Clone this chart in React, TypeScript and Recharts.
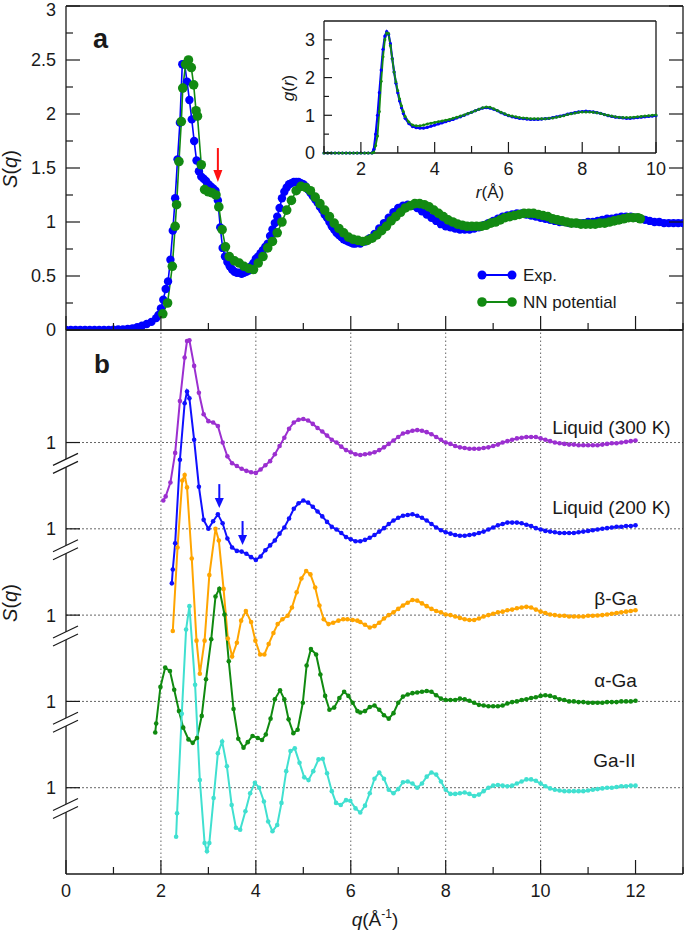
import React from "react";
import { LineChart, Line, XAxis, YAxis, ReferenceLine, ReferenceDot } from "recharts";

const FONT = "'Liberation Sans', Arial, Helvetica, sans-serif";
const INK = "#1a1a1a";

type Pt = [number, number];

// ---- panel a: S(q), experiment vs NN potential ----
const expSq: Pt[] = [
  [0, 0], [0.1, 0], [0.2, 0], [0.3, 0], [0.4, 0], [0.5, 0], [0.6, 0], [0.7, 0], [0.8, 0], [0.9, 0],
  [1.0, 0.002], [1.1, 0.004], [1.2, 0.006], [1.3, 0.01], [1.4, 0.015], [1.5, 0.025], [1.6, 0.04],
  [1.7, 0.055], [1.8, 0.075], [1.9, 0.11], [1.95, 0.14], [2.0, 0.2], [2.05, 0.28], [2.1, 0.38],
  [2.15, 0.45], [2.2, 0.65], [2.25, 0.92], [2.3, 1.22], [2.35, 1.58], [2.4, 1.92], [2.45, 2.46],
  [2.5, 2.46], [2.55, 2.3], [2.6, 2.13], [2.65, 1.95], [2.7, 1.75], [2.75, 1.57], [2.8, 1.47],
  [2.85, 1.42], [2.9, 1.4], [2.95, 1.38], [3.0, 1.35], [3.05, 1.33], [3.1, 1.31], [3.15, 1.29],
  [3.2, 1.2], [3.25, 0.95], [3.3, 0.76], [3.35, 0.68], [3.4, 0.63], [3.45, 0.59], [3.5, 0.56],
  [3.55, 0.54], [3.6, 0.53], [3.65, 0.53], [3.7, 0.52], [3.75, 0.53], [3.8, 0.54], [3.85, 0.55],
  [3.9, 0.59], [3.95, 0.62], [4.0, 0.66], [4.05, 0.68], [4.1, 0.71], [4.15, 0.74], [4.2, 0.77],
  [4.25, 0.8], [4.3, 0.87], [4.35, 0.93], [4.4, 0.99], [4.45, 1.05], [4.5, 1.13], [4.55, 1.22],
  [4.6, 1.28], [4.65, 1.32], [4.7, 1.35], [4.75, 1.36], [4.8, 1.37], [4.85, 1.37], [4.9, 1.37],
  [4.95, 1.36], [5.0, 1.35], [5.05, 1.33], [5.1, 1.3], [5.15, 1.27], [5.2, 1.24], [5.25, 1.21],
  [5.3, 1.18], [5.35, 1.14], [5.4, 1.11], [5.45, 1.07], [5.5, 1.04], [5.55, 1.0], [5.6, 0.96],
  [5.65, 0.93], [5.7, 0.9], [5.75, 0.88], [5.8, 0.86], [5.85, 0.84], [5.9, 0.83], [5.95, 0.82],
  [6.0, 0.81], [6.05, 0.8], [6.1, 0.8], [6.2, 0.8], [6.3, 0.82], [6.4, 0.85], [6.5, 0.89],
  [6.6, 0.94], [6.7, 0.99], [6.8, 1.04], [6.9, 1.09], [7.0, 1.13], [7.1, 1.15], [7.2, 1.16],
  [7.3, 1.15], [7.4, 1.13], [7.5, 1.1], [7.6, 1.07], [7.7, 1.04], [7.8, 1.01], [7.9, 0.98],
  [8.0, 0.96], [8.1, 0.95], [8.2, 0.94], [8.3, 0.93], [8.4, 0.93], [8.5, 0.93], [8.6, 0.94],
  [8.7, 0.95], [8.8, 0.97], [8.9, 0.99], [9.0, 1.01], [9.1, 1.03], [9.2, 1.05], [9.3, 1.06],
  [9.4, 1.07], [9.5, 1.08], [9.6, 1.08], [9.7, 1.07], [9.8, 1.06], [9.9, 1.05], [10.0, 1.04],
  [10.1, 1.03], [10.2, 1.02], [10.3, 1.01], [10.4, 1.0], [10.5, 1.0], [10.6, 0.99], [10.7, 0.99],
  [10.8, 0.99], [10.9, 0.99], [11.0, 1.0], [11.1, 1.0], [11.2, 1.01], [11.3, 1.02], [11.4, 1.03],
  [11.5, 1.03], [11.6, 1.04], [11.7, 1.05], [11.8, 1.05], [11.9, 1.05], [12.0, 1.04], [12.1, 1.03],
  [12.2, 1.02], [12.3, 1.01], [12.4, 1.0], [12.5, 1.0], [12.6, 0.99], [12.7, 0.99], [12.8, 0.99],
  [12.9, 0.99], [13.0, 0.99],
];

const nnSq: Pt[] = [
  [2.04, 0.15], [2.14, 0.25], [2.24, 0.59], [2.3, 0.96], [2.33, 1.16], [2.38, 1.56], [2.43, 1.93],
  [2.46, 2.24], [2.52, 2.46], [2.58, 2.5], [2.64, 2.43], [2.69, 2.27], [2.74, 2.03], [2.77, 1.98],
  [2.85, 1.53], [2.92, 1.3], [3.0, 1.28], [3.08, 1.27], [3.16, 1.25], [3.22, 1.14], [3.29, 0.93],
  [3.36, 0.77], [3.44, 0.68], [3.55, 0.64], [3.65, 0.62], [3.75, 0.59], [3.85, 0.57], [3.95, 0.56],
  [4.05, 0.62], [4.15, 0.68], [4.25, 0.76], [4.35, 0.82], [4.45, 0.9], [4.55, 1.0], [4.65, 1.11],
  [4.75, 1.2], [4.85, 1.29], [4.95, 1.33], [5.05, 1.32], [5.15, 1.29], [5.25, 1.23], [5.35, 1.17],
  [5.45, 1.11], [5.55, 1.05], [5.65, 0.99], [5.75, 0.94], [5.85, 0.9], [5.95, 0.86], [6.05, 0.84],
  [6.15, 0.83], [6.25, 0.82], [6.35, 0.83], [6.45, 0.85], [6.55, 0.88], [6.65, 0.92], [6.75, 0.96],
  [6.85, 1.01], [6.95, 1.05], [7.05, 1.09], [7.15, 1.13], [7.25, 1.15], [7.35, 1.17], [7.45, 1.17],
  [7.55, 1.16], [7.65, 1.14], [7.75, 1.11], [7.85, 1.08], [7.95, 1.05], [8.05, 1.02], [8.15, 1.0],
  [8.25, 0.98], [8.35, 0.97], [8.45, 0.96], [8.55, 0.96], [8.65, 0.96], [8.75, 0.96], [8.85, 0.97],
  [8.95, 0.99], [9.05, 1.0], [9.15, 1.02], [9.25, 1.04], [9.35, 1.05], [9.45, 1.06], [9.55, 1.07],
  [9.65, 1.08], [9.75, 1.08], [9.85, 1.08], [9.95, 1.07], [10.05, 1.06], [10.15, 1.05], [10.25, 1.03],
  [10.35, 1.02], [10.45, 1.01], [10.55, 1.0], [10.65, 0.99], [10.75, 0.99], [10.85, 0.98],
  [10.95, 0.98], [11.05, 0.98], [11.15, 0.98], [11.25, 0.99], [11.35, 0.99], [11.45, 1.0],
  [11.55, 1.01], [11.65, 1.02], [11.75, 1.03], [11.85, 1.04], [11.95, 1.04], [12.05, 1.04], [12.1, 1.03],
];

// ---- inset: g(r) ----
const expGr: Pt[] = [
  [1.0, 0], [1.1, 0], [1.2, 0], [1.3, 0], [1.4, 0], [1.5, 0], [1.6, 0], [1.7, 0], [1.8, 0], [1.9, 0],
  [2.0, 0], [2.1, 0], [2.2, 0], [2.3, 0], [2.35, 0.1], [2.4, 0.5], [2.45, 1.0], [2.5, 1.6], [2.55, 2.2],
  [2.6, 2.75], [2.65, 3.1], [2.7, 3.22], [2.75, 3.15], [2.8, 2.9], [2.85, 2.5], [2.9, 2.15], [2.95, 1.85],
  [3.0, 1.6], [3.05, 1.38], [3.1, 1.2], [3.15, 1.05], [3.2, 0.92], [3.3, 0.78], [3.4, 0.7], [3.5, 0.67],
  [3.6, 0.66], [3.7, 0.66], [3.8, 0.68], [3.9, 0.71], [4.0, 0.74], [4.1, 0.77], [4.2, 0.8], [4.3, 0.83],
  [4.4, 0.86], [4.5, 0.89], [4.6, 0.93], [4.7, 0.96], [4.8, 1.0], [4.9, 1.04], [5.0, 1.08], [5.1, 1.12],
  [5.2, 1.16], [5.3, 1.19], [5.4, 1.2], [5.5, 1.19], [5.6, 1.16], [5.7, 1.12], [5.8, 1.07], [5.9, 1.03],
  [6.0, 0.99], [6.1, 0.96], [6.2, 0.94], [6.3, 0.92], [6.4, 0.91], [6.5, 0.9], [6.6, 0.89], [6.7, 0.89],
  [6.8, 0.89], [6.9, 0.9], [7.0, 0.91], [7.1, 0.92], [7.2, 0.94], [7.3, 0.96], [7.4, 0.98], [7.5, 1.0],
  [7.6, 1.03], [7.7, 1.05], [7.8, 1.07], [7.9, 1.09], [8.0, 1.1], [8.1, 1.11], [8.2, 1.1], [8.3, 1.09],
  [8.4, 1.07], [8.5, 1.05], [8.6, 1.02], [8.7, 0.99], [8.8, 0.97], [8.9, 0.95], [9.0, 0.94], [9.1, 0.93],
  [9.2, 0.92], [9.3, 0.92], [9.4, 0.93], [9.5, 0.94], [9.6, 0.95], [9.7, 0.96], [9.8, 0.97], [9.9, 0.98],
  [10.0, 0.99],
];

const nnGr: Pt[] = [
  [1.0, 0], [1.1, 0], [1.2, 0], [1.3, 0], [1.4, 0], [1.5, 0], [1.6, 0], [1.7, 0], [1.8, 0], [1.9, 0],
  [2.0, 0], [2.1, 0], [2.2, 0], [2.3, 0], [2.35, 0.02], [2.4, 0.2], [2.45, 0.45], [2.5, 1.1], [2.55, 1.9],
  [2.6, 2.55], [2.65, 3.0], [2.7, 3.18], [2.75, 3.17], [2.8, 2.85], [2.85, 2.5], [2.9, 2.15], [2.95, 1.88],
  [3.0, 1.65], [3.05, 1.43], [3.1, 1.25], [3.15, 1.1], [3.2, 0.97], [3.3, 0.82], [3.4, 0.74], [3.5, 0.72],
  [3.6, 0.72], [3.7, 0.74], [3.8, 0.77], [3.9, 0.79], [4.0, 0.81], [4.1, 0.83], [4.2, 0.85], [4.3, 0.87],
  [4.4, 0.89], [4.5, 0.92], [4.6, 0.95], [4.7, 0.98], [4.8, 1.01], [4.9, 1.05], [5.0, 1.08], [5.1, 1.12],
  [5.2, 1.16], [5.3, 1.2], [5.4, 1.22], [5.5, 1.21], [5.6, 1.17], [5.7, 1.13], [5.8, 1.08], [5.9, 1.04],
  [6.0, 1.0], [6.1, 0.98], [6.2, 0.96], [6.3, 0.94], [6.4, 0.93], [6.5, 0.92], [6.6, 0.91], [6.7, 0.91],
  [6.8, 0.91], [6.9, 0.91], [7.0, 0.91], [7.1, 0.92], [7.2, 0.93], [7.3, 0.95], [7.4, 0.97], [7.5, 0.99],
  [7.6, 1.02], [7.7, 1.04], [7.8, 1.06], [7.9, 1.08], [8.0, 1.09], [8.1, 1.09], [8.2, 1.09], [8.3, 1.08],
  [8.4, 1.07], [8.5, 1.05], [8.6, 1.02], [8.7, 1.0], [8.8, 0.98], [8.9, 0.96], [9.0, 0.95], [9.1, 0.94],
  [9.2, 0.94], [9.3, 0.94], [9.4, 0.95], [9.5, 0.96], [9.6, 0.97], [9.7, 0.98], [9.8, 0.99], [9.9, 1.0],
  [10.0, 1.01],
];

// ---- panel b: S(q) of five phases ----
const liquid300: Pt[] = [
  [2.05, 0.16], [2.1, 0.22], [2.2, 0.42], [2.3, 0.85], [2.4, 1.6], [2.5, 2.23], [2.55, 2.47], [2.6, 2.48],
  [2.7, 2.11], [2.8, 1.72], [2.9, 1.41], [3.0, 1.31], [3.1, 1.29], [3.2, 1.24], [3.3, 1.0], [3.4, 0.8],
  [3.5, 0.7], [3.6, 0.66], [3.7, 0.62], [3.8, 0.59], [3.9, 0.57], [4.0, 0.56], [4.1, 0.61], [4.2, 0.67],
  [4.3, 0.73], [4.4, 0.83], [4.5, 0.95], [4.6, 1.07], [4.7, 1.2], [4.8, 1.29], [4.9, 1.33], [5.0, 1.34],
  [5.1, 1.32], [5.2, 1.27], [5.3, 1.21], [5.4, 1.16], [5.5, 1.1], [5.6, 1.04], [5.7, 1.0], [5.8, 0.94],
  [5.9, 0.89], [6.0, 0.86], [6.1, 0.83], [6.2, 0.82], [6.3, 0.83], [6.4, 0.84], [6.5, 0.86], [6.6, 0.89],
  [6.7, 0.93], [6.8, 0.98], [6.9, 1.03], [7.0, 1.08], [7.1, 1.13], [7.2, 1.15], [7.3, 1.17], [7.4, 1.18],
  [7.5, 1.17], [7.6, 1.15], [7.7, 1.12], [7.8, 1.08], [7.9, 1.04], [8.0, 1.0], [8.1, 0.98], [8.2, 0.95],
  [8.3, 0.93], [8.4, 0.92], [8.5, 0.91], [8.6, 0.91], [8.7, 0.91], [8.8, 0.92], [8.9, 0.93], [9.0, 0.95],
  [9.1, 0.97], [9.2, 1.0], [9.3, 1.02], [9.4, 1.04], [9.5, 1.06], [9.6, 1.07], [9.7, 1.08], [9.8, 1.08],
  [9.9, 1.08], [10.0, 1.06], [10.1, 1.04], [10.2, 1.02], [10.3, 1.0], [10.4, 0.99], [10.5, 0.98],
  [10.6, 0.97], [10.7, 0.97], [10.8, 0.96], [10.9, 0.96], [11.0, 0.96], [11.1, 0.96], [11.2, 0.96],
  [11.3, 0.97], [11.4, 0.98], [11.5, 0.99], [11.6, 0.99], [11.7, 1.0], [11.8, 1.01], [11.9, 1.02], [12.0, 1.03],
];

const liquid200: Pt[] = [
  [2.23, 0.21], [2.25, 0.41], [2.3, 0.79], [2.4, 2.0], [2.5, 2.82], [2.55, 2.99], [2.6, 2.89], [2.7, 2.29],
  [2.8, 1.61], [2.9, 1.13], [3.0, 1.0], [3.1, 1.11], [3.2, 1.21], [3.3, 1.08], [3.4, 0.86], [3.5, 0.73],
  [3.6, 0.68], [3.7, 0.67], [3.8, 0.64], [3.9, 0.59], [4.0, 0.55], [4.1, 0.6], [4.2, 0.69], [4.3, 0.76],
  [4.4, 0.83], [4.5, 0.93], [4.6, 1.02], [4.7, 1.15], [4.8, 1.29], [4.9, 1.37], [5.0, 1.41], [5.1, 1.38],
  [5.2, 1.32], [5.3, 1.25], [5.4, 1.18], [5.5, 1.1], [5.6, 1.03], [5.7, 0.99], [5.8, 0.94], [5.9, 0.88],
  [6.0, 0.85], [6.1, 0.82], [6.2, 0.82], [6.3, 0.84], [6.4, 0.87], [6.5, 0.91], [6.6, 0.96], [6.7, 1.01],
  [6.8, 1.07], [6.9, 1.12], [7.0, 1.16], [7.1, 1.19], [7.2, 1.2], [7.3, 1.21], [7.4, 1.19], [7.5, 1.16],
  [7.6, 1.12], [7.7, 1.07], [7.8, 1.02], [7.9, 0.98], [8.0, 0.95], [8.1, 0.93], [8.2, 0.91], [8.3, 0.9],
  [8.4, 0.9], [8.5, 0.91], [8.6, 0.92], [8.7, 0.94], [8.8, 0.96], [8.9, 0.99], [9.0, 1.02], [9.1, 1.05],
  [9.2, 1.07], [9.3, 1.09], [9.4, 1.09], [9.5, 1.09], [9.6, 1.08], [9.7, 1.06], [9.8, 1.04], [9.9, 1.01],
  [10.0, 0.99], [10.1, 0.97], [10.2, 0.96], [10.3, 0.95], [10.4, 0.94], [10.5, 0.94], [10.6, 0.94],
  [10.7, 0.94], [10.8, 0.95], [10.9, 0.96], [11.0, 0.97], [11.1, 0.98], [11.2, 0.99], [11.3, 1.0],
  [11.4, 1.01], [11.5, 1.02], [11.6, 1.03], [11.7, 1.03], [11.8, 1.04], [11.9, 1.04], [12.0, 1.05],
];

const betaGa: Pt[] = [
  [2.25, 0.77], [2.35, 1.98], [2.45, 2.95], [2.5, 3.03], [2.55, 2.85], [2.65, 1.82], [2.75, 0.63],
  [2.82, 0.15], [2.92, 0.63], [3.02, 1.58], [3.15, 2.25], [3.22, 2.08], [3.32, 1.38], [3.41, 0.66],
  [3.5, 0.4], [3.6, 0.6], [3.69, 0.92], [3.79, 1.06], [3.9, 0.9], [3.99, 0.63], [4.09, 0.43], [4.18, 0.43],
  [4.27, 0.58], [4.37, 0.74], [4.46, 0.87], [4.56, 0.94], [4.67, 0.99], [4.76, 1.11], [4.86, 1.33],
  [4.96, 1.53], [5.06, 1.64], [5.15, 1.59], [5.25, 1.4], [5.34, 1.14], [5.43, 0.94], [5.53, 0.87],
  [5.63, 0.89], [5.74, 0.92], [5.84, 0.94], [5.93, 0.94], [6.04, 0.93], [6.14, 0.92], [6.2, 0.9],
  [6.3, 0.86], [6.4, 0.82], [6.5, 0.84], [6.6, 0.89], [6.7, 0.95], [6.8, 1.0], [6.9, 1.04], [7.0, 1.09],
  [7.1, 1.14], [7.2, 1.18], [7.3, 1.22], [7.4, 1.21], [7.5, 1.17], [7.6, 1.13], [7.7, 1.09], [7.8, 1.06],
  [7.9, 1.04], [8.0, 1.01], [8.1, 1.0], [8.2, 0.98], [8.3, 0.96], [8.4, 0.94], [8.5, 0.93], [8.6, 0.93],
  [8.7, 0.95], [8.8, 0.98], [8.9, 1.0], [9.0, 1.02], [9.1, 1.04], [9.2, 1.05], [9.3, 1.07], [9.4, 1.08],
  [9.5, 1.1], [9.6, 1.11], [9.7, 1.12], [9.8, 1.11], [9.9, 1.08], [10.0, 1.05], [10.1, 1.03], [10.2, 1.01],
  [10.3, 1.0], [10.4, 0.99], [10.5, 0.99], [10.6, 0.98], [10.7, 0.98], [10.8, 0.98], [10.9, 0.98],
  [11.0, 0.99], [11.1, 0.99], [11.2, 0.995], [11.3, 1.0], [11.4, 1.01], [11.5, 1.02], [11.6, 1.03],
  [11.7, 1.04], [11.8, 1.05], [11.9, 1.06], [12.0, 1.07],
];

const alphaGa: Pt[] = [
  [1.88, 0.55], [1.9, 0.68], [1.99, 1.21], [2.09, 1.49], [2.19, 1.44], [2.28, 1.17], [2.38, 0.86],
  [2.47, 0.62], [2.58, 0.45], [2.67, 0.4], [2.76, 0.47], [2.86, 0.79], [2.95, 1.32], [3.06, 1.9],
  [3.15, 2.52], [3.23, 2.63], [3.34, 2.26], [3.43, 1.58], [3.53, 0.89], [3.63, 0.46], [3.74, 0.33],
  [3.83, 0.41], [3.93, 0.5], [4.04, 0.47], [4.13, 0.44], [4.21, 0.52], [4.31, 0.75], [4.4, 1.03],
  [4.51, 1.16], [4.6, 1.03], [4.69, 0.74], [4.79, 0.54], [4.88, 0.59], [4.99, 0.98], [5.07, 1.52],
  [5.16, 1.76], [5.27, 1.68], [5.36, 1.39], [5.46, 1.08], [5.55, 0.88], [5.65, 0.91], [5.76, 1.05],
  [5.86, 1.14], [5.95, 1.08], [6.04, 0.98], [6.14, 0.86], [6.2, 0.84], [6.3, 0.86], [6.4, 0.92],
  [6.5, 0.94], [6.6, 0.88], [6.7, 0.8], [6.8, 0.75], [6.9, 0.83], [7.0, 0.98], [7.1, 1.07], [7.2, 1.1],
  [7.3, 1.12], [7.4, 1.13], [7.5, 1.14], [7.6, 1.15], [7.7, 1.14], [7.8, 1.09], [7.9, 1.04], [8.0, 1.02],
  [8.1, 1.02], [8.2, 1.02], [8.3, 1.04], [8.4, 1.03], [8.5, 1.01], [8.6, 0.98], [8.7, 0.95], [8.8, 0.94],
  [8.9, 0.93], [9.0, 0.93], [9.1, 0.93], [9.2, 0.94], [9.3, 0.97], [9.4, 0.99], [9.5, 1.0], [9.6, 1.02],
  [9.7, 1.03], [9.8, 1.05], [9.9, 1.06], [10.0, 1.08], [10.1, 1.09], [10.2, 1.08], [10.3, 1.06],
  [10.4, 1.03], [10.5, 1.02], [10.6, 1.0], [10.7, 1.0], [10.8, 0.99], [10.9, 0.99], [11.0, 0.98],
  [11.1, 0.98], [11.2, 0.98], [11.3, 0.98], [11.4, 0.99], [11.5, 0.99], [11.6, 0.99], [11.7, 1.0],
  [11.8, 1.0], [11.9, 1.0], [12.0, 1.01],
];

const gaII: Pt[] = [
  [2.32, 0.29], [2.34, 0.63], [2.44, 2.07], [2.53, 3.29], [2.6, 3.63], [2.72, 2.49], [2.82, 1.11],
  [2.92, 0.2], [2.97, 0.08], [3.02, 0.2], [3.11, 0.85], [3.2, 1.5], [3.29, 1.67], [3.39, 1.31],
  [3.49, 0.75], [3.58, 0.42], [3.67, 0.39], [3.78, 0.66], [3.88, 0.92], [3.98, 1.07], [4.07, 1.0],
  [4.17, 0.8], [4.26, 0.51], [4.35, 0.37], [4.45, 0.46], [4.54, 0.78], [4.64, 1.24], [4.73, 1.53],
  [4.82, 1.57], [4.92, 1.36], [5.02, 1.15], [5.11, 1.11], [5.21, 1.24], [5.32, 1.41], [5.41, 1.42],
  [5.5, 1.21], [5.6, 0.95], [5.69, 0.78], [5.79, 0.75], [5.9, 0.82], [5.99, 0.81], [6.1, 0.7],
  [6.2, 0.64], [6.3, 0.74], [6.4, 0.92], [6.5, 1.13], [6.6, 1.22], [6.7, 1.13], [6.8, 0.97], [6.9, 0.92],
  [7.0, 0.98], [7.1, 1.08], [7.2, 1.09], [7.3, 1.06], [7.4, 1.0], [7.5, 1.06], [7.6, 1.16], [7.7, 1.22],
  [7.8, 1.19], [7.9, 1.09], [8.0, 0.97], [8.1, 0.91], [8.2, 0.91], [8.3, 0.92], [8.4, 0.93], [8.5, 0.91],
  [8.6, 0.88], [8.7, 0.9], [8.8, 0.95], [8.9, 1.0], [9.0, 1.03], [9.1, 1.04], [9.2, 1.03], [9.3, 1.02],
  [9.4, 1.03], [9.5, 1.06], [9.6, 1.09], [9.7, 1.12], [9.8, 1.12], [9.9, 1.1], [10.0, 1.06], [10.1, 1.02],
  [10.2, 0.99], [10.3, 0.97], [10.4, 0.96], [10.5, 0.95], [10.6, 0.95], [10.7, 0.95], [10.8, 0.95],
  [10.9, 0.95], [11.0, 0.96], [11.1, 0.97], [11.2, 0.98], [11.3, 0.99], [11.4, 1.0], [11.5, 1.0],
  [11.6, 1.01], [11.7, 1.02], [11.8, 1.02], [11.9, 1.03], [12.0, 1.03],
];

const qTicks = [0, 1, 2, 3, 4, 5, 6, 7, 8, 9, 10, 11, 12, 13];
const sTicksA = [0, 0.25, 0.5, 0.75, 1, 1.25, 1.5, 1.75, 2, 2.25, 2.5, 2.75, 3];
const rTicks = [1, 2, 3, 4, 5, 6, 7, 8, 9, 10];
const gTicks = [0, 0.5, 1, 1.5, 2, 2.5, 3];
const qGridB = [2, 4, 6, 8, 10];

// panel b: every curve shifted so its S = 1 sits on its own dotted baseline
const STEP = 1.25;
const phases = [
  { name: "Liquid (300 K)", color: "#9b2fd0", pts: liquid300, base: 5 * STEP, labelQ: 12.74, lift: 9 },
  { name: "Liquid (200 K)", color: "#1010ff", pts: liquid200, base: 4 * STEP, labelQ: 12.74, lift: 15 },
  { name: "β-Ga", color: "#ffa500", pts: betaGa, base: 3 * STEP, labelQ: 12.03, lift: 10 },
  { name: "α-Ga", color: "#108a10", pts: alphaGa, base: 2 * STEP, labelQ: 12.03, lift: 14 },
  { name: "Ga-II", color: "#40e0d0", pts: gaII, base: 1 * STEP, labelQ: 12.0, lift: 21 },
];
const baselines = phases.map((p) => p.base);

const rows = (pts: Pt[]) => pts.map(([q, s]) => ({ q, s }));
const shifted = (pts: Pt[], base: number) => pts.map(([q, s]) => ({ q, s: s - 1 + base }));

const isMult = (v: number, m: number) => Math.abs(v / m - Math.round(v / m)) < 1e-6;

type Side = "bottom" | "top" | "left" | "right";
function axisTick(o: {
  side: Side;
  major: (v: number) => boolean;
  long: number;
  short: number;
  label?: (v: number) => string;
  gap?: number;
  fontSize?: number;
  nudge?: (v: number) => number;
}) {
  return (p: any) => {
    const { x, y, payload } = p;
    const v = payload.value as number;
    const big = o.major(v);
    const len = big ? o.long : o.short;
    let x2 = x;
    let y2 = y;
    if (o.side === "bottom") y2 = y - len;
    if (o.side === "top") y2 = y + len;
    if (o.side === "left") x2 = x + len;
    if (o.side === "right") x2 = x - len;
    const txt = big && o.label ? o.label(v) : null;
    const ny = o.nudge ? o.nudge(v) : 0;
    return (
      <g>
        <line x1={x} y1={y} x2={x2} y2={y2} stroke={INK} strokeWidth={1.2} />
        {txt !== null &&
          (o.side === "bottom" ? (
            <text x={x} y={y + (o.gap ?? 0)} textAnchor="middle" fontSize={o.fontSize} fontFamily={FONT} fill={INK}>
              {txt}
            </text>
          ) : (
            <text x={x - (o.gap ?? 0)} y={y + ny} dy="0.36em" textAnchor="end" fontSize={o.fontSize} fontFamily={FONT} fill={INK}>
              {txt}
            </text>
          ))}
      </g>
    );
  };
}

const axisLine = { stroke: INK, strokeWidth: 1.3 };
const even = (v: number) => isMult(v, 2);

function DownArrow(color: string, len: number, head: number, half: number) {
  return (p: any) => {
    const { cx, cy } = p;
    return (
      <g>
        <line x1={cx} y1={cy - len} x2={cx} y2={cy - head + 1} stroke={color} strokeWidth={2} />
        <polygon points={`${cx - half},${cy - head} ${cx + half},${cy - head} ${cx},${cy}`} fill={color} />
      </g>
    );
  };
}

const BreakMark = (p: any) => {
  const { cx, cy } = p;
  return (
    <g>
      <polygon points={`${cx - 13},${cy - 2} ${cx + 12},${cy - 14} ${cx + 12},${cy - 6} ${cx - 13},${cy + 6}`} fill="#fff" />
      <line x1={cx - 13} y1={cy - 2} x2={cx + 12} y2={cy - 14} stroke={INK} strokeWidth={1.2} />
      <line x1={cx - 13} y1={cy + 6} x2={cx + 12} y2={cy - 6} stroke={INK} strokeWidth={1.2} />
    </g>
  );
};

function CurveLabel(text: string, lift: number) {
  return (p: any) => (
    <text x={p.cx} y={p.cy - lift} textAnchor="end" fontSize={19} fontFamily={FONT} fill={INK}>
      {text}
    </text>
  );
}

const fmtS = (v: number) => String(v);

export default function App() {
  return (
    <div style={{ position: "absolute", left: 0, top: 0, width: 685, height: 933, background: "#fff", fontFamily: FONT }}>
      <style>{"svg.recharts-surface{overflow:visible}"}</style>
      {/* panel a */}
      <div style={{ position: "absolute", left: 0, top: 0 }}>
        <LineChart width={685} height={331} margin={{ top: 5, right: 1, bottom: 0, left: 0 }}>
          <XAxis xAxisId="b" type="number" dataKey="q" domain={[0, 13]} ticks={qTicks} interval={0} height={1}
            tickSize={0} tickMargin={0} axisLine={axisLine} tickLine={false}
            tick={axisTick({ side: "bottom", major: even, long: 14, short: 7 })} allowDataOverflow />
          <XAxis xAxisId="t" orientation="top" type="number" domain={[0, 13]} ticks={qTicks} interval={0} height={1}
            tickSize={0} tickMargin={0} axisLine={axisLine} tickLine={false}
            tick={axisTick({ side: "top", major: even, long: 14, short: 7 })} allowDataOverflow />
          <YAxis yAxisId="l" type="number" domain={[0, 3]} ticks={sTicksA} interval={0} width={66}
            tickSize={0} tickMargin={0} axisLine={axisLine} tickLine={false}
            tick={axisTick({ side: "left", major: (v) => isMult(v, 0.5), long: 14, short: 7, label: fmtS, gap: 10, fontSize: 18, nudge: (v) => (v === 3 ? 3.5 : 0) })} allowDataOverflow />
          <YAxis yAxisId="r" orientation="right" type="number" domain={[0, 3]} ticks={sTicksA} interval={0} width={1}
            tickSize={0} tickMargin={0} axisLine={axisLine} tickLine={false}
            tick={axisTick({ side: "right", major: (v) => isMult(v, 0.5), long: 14, short: 7 })} allowDataOverflow />
          <Line xAxisId="b" yAxisId="l" data={rows(expSq)} dataKey="s" type="linear" stroke="#0000ff" strokeWidth={1.6}
            dot={{ r: 4.2, fill: "#0000ff", stroke: "none" }} isAnimationActive={false} />
          <Line xAxisId="b" yAxisId="l" data={rows(nnSq)} dataKey="s" type="linear" stroke="#128a12" strokeWidth={1.6}
            dot={{ r: 4.8, fill: "#128a12", stroke: "none" }} isAnimationActive={false} />
          <ReferenceDot xAxisId="b" yAxisId="l" x={3.2} y={1.37} r={0} shape={DownArrow("#ff1010", 34, 12, 4.5)} />
        </LineChart>
      </div>

      {/* inset g(r) */}
      <div style={{ position: "absolute", left: 290, top: 15 }}>
        <LineChart width={370} height={190} margin={{ top: 5, right: 3, bottom: 0, left: 0 }}>
          <XAxis xAxisId="b" type="number" dataKey="r" domain={[1, 10]} ticks={rTicks} interval={0} height={52}
            tickSize={0} tickMargin={0} axisLine={axisLine} tickLine={false}
            tick={axisTick({ side: "bottom", major: even, long: 11, short: 7, label: fmtS, gap: 22, fontSize: 18 })} />
          <XAxis xAxisId="t" orientation="top" type="number" domain={[1, 10]} ticks={rTicks} interval={0} height={1}
            tickSize={0} tickMargin={0} axisLine={axisLine} tickLine={false}
            tick={axisTick({ side: "top", major: even, long: 11, short: 7 })} />
          <YAxis yAxisId="l" type="number" domain={[0, 3.5]} ticks={gTicks} interval={0} width={34}
            tickSize={0} tickMargin={0} axisLine={axisLine} tickLine={false}
            tick={axisTick({ side: "left", major: (v) => isMult(v, 1), long: 8, short: 5, label: fmtS, gap: 9, fontSize: 18 })} />
          <YAxis yAxisId="r" orientation="right" type="number" domain={[0, 3.5]} ticks={gTicks} interval={0} width={1}
            tickSize={0} tickMargin={0} axisLine={axisLine} tickLine={false}
            tick={axisTick({ side: "right", major: (v) => isMult(v, 1), long: 8, short: 5 })} />
          <Line xAxisId="b" yAxisId="l" data={expGr.map(([r, g]) => ({ r, g }))} dataKey="g" type="linear" stroke="#0000ff"
            strokeWidth={2.2} dot={{ r: 1.6, fill: "#0000ff", stroke: "none" }} isAnimationActive={false} />
          <Line xAxisId="b" yAxisId="l" data={nnGr.map(([r, g]) => ({ r, g }))} dataKey="g" type="linear" stroke="#128a12"
            strokeWidth={1.8} dot={{ r: 1.5, fill: "#128a12", stroke: "none" }} isAnimationActive={false} />
        </LineChart>
      </div>

      {/* panel b */}
      <div style={{ position: "absolute", left: 0, top: 329 }}>
        <LineChart width={685} height={604} margin={{ top: 0, right: 1, bottom: 0, left: 0 }}>
          <XAxis xAxisId="b" type="number" dataKey="q" domain={[0, 13]} ticks={qTicks} interval={0} height={59}
            tickSize={0} tickMargin={0} axisLine={axisLine} tickLine={false}
            tick={axisTick({ side: "bottom", major: even, long: 14, short: 7, label: (v) => (v <= 12 ? String(v) : ""), gap: 23, fontSize: 18 })} />
          <XAxis xAxisId="t" orientation="top" type="number" domain={[0, 13]} ticks={qTicks} interval={0} height={1}
            tickSize={0} tickMargin={0} axisLine={axisLine} tickLine={false}
            tick={axisTick({ side: "top", major: even, long: 14, short: 7 })} />
          <YAxis yAxisId="l" type="number" domain={[0, 7.88]} ticks={baselines} interval={0} width={66}
            tickSize={0} tickMargin={0} axisLine={axisLine} tickLine={false}
            tick={axisTick({ side: "left", major: () => true, long: 14, short: 14, label: () => "1", gap: 10, fontSize: 18 })} />
          <YAxis yAxisId="r" orientation="right" type="number" domain={[0, 7.88]} ticks={baselines} interval={0} width={1}
            tickSize={0} tickMargin={0} axisLine={axisLine} tickLine={false}
            tick={axisTick({ side: "right", major: () => true, long: 14, short: 14 })} />
          {baselines.map((b) => (
            <ReferenceLine key={`h${b}`} xAxisId="b" yAxisId="l" y={b} stroke="#666" strokeDasharray="2 2" strokeWidth={1} />
          ))}
          {qGridB.map((q) => (
            <ReferenceLine key={`v${q}`} xAxisId="b" yAxisId="l" x={q} stroke="#666" strokeDasharray="1.5 2.5" strokeWidth={1} />
          ))}
          {phases.map((p) => (
            <Line key={p.name} xAxisId="b" yAxisId="l" data={shifted(p.pts, p.base)} dataKey="s" type="linear"
              stroke={p.color} strokeWidth={2} dot={{ r: 2.3, fill: p.color, stroke: "none" }} isAnimationActive={false} />
          ))}
          {phases.map((p) => (
            <ReferenceDot key={`lab${p.name}`} xAxisId="b" yAxisId="l" x={p.labelQ} y={p.base} r={0} shape={CurveLabel(p.name, p.lift)} />
          ))}
          <ReferenceDot xAxisId="b" yAxisId="l" x={3.23} y={5.3} r={0} shape={DownArrow("#1010ff", 24, 10, 4.5)} />
          <ReferenceDot xAxisId="b" yAxisId="l" x={3.72} y={4.765} r={0} shape={DownArrow("#1010ff", 24, 10, 4.5)} />
          {baselines.map((b) => (
            <ReferenceDot key={`br${b}`} xAxisId="b" yAxisId="l" x={0} y={b - 0.36} r={0} shape={BreakMark} />
          ))}
        </LineChart>
      </div>

      {/* panel letters, axis titles and legend */}
      <svg width={685} height={933} style={{ position: "absolute", left: 0, top: 0, pointerEvents: "none" }} fontFamily={FONT} fill={INK}>
        <text x={93} y={48} fontSize={27} fontWeight="bold">a</text>
        <text x={94} y={373} fontSize={26} fontWeight="bold">b</text>
        <text transform="translate(17,169) rotate(-90)" textAnchor="middle" fontSize={20}>
          <tspan fontStyle="italic">S</tspan>(<tspan fontStyle="italic">q</tspan>)
        </text>
        <text transform="translate(17,603) rotate(-90)" textAnchor="middle" fontSize={20}>
          <tspan fontStyle="italic">S</tspan>(<tspan fontStyle="italic">q</tspan>)
        </text>
        <text transform="translate(294,88) rotate(-90)" textAnchor="middle" fontSize={17}>
          <tspan fontStyle="italic">g</tspan>(<tspan fontStyle="italic">r</tspan>)
        </text>
        <text x={490} y={198} textAnchor="middle" fontSize={17}>
          <tspan fontStyle="italic">r</tspan>(Å)
        </text>
        <text x={375} y={926} textAnchor="middle" fontSize={19}>
          <tspan fontStyle="italic">q</tspan>(Å<tspan fontSize={12} dy={-8}>-1</tspan><tspan dy={8}>)</tspan>
        </text>
        <line x1={482} y1={275} x2={512} y2={275} stroke="#0000ff" strokeWidth={2} />
        <circle cx={482} cy={275} r={4.5} fill="#0000ff" />
        <circle cx={512} cy={275} r={4.5} fill="#0000ff" />
        <text x={523} y={281} fontSize={17}>Exp.</text>
        <line x1={482} y1={302} x2={512} y2={302} stroke="#128a12" strokeWidth={2} />
        <circle cx={482} cy={302} r={4.8} fill="#128a12" />
        <circle cx={512} cy={302} r={4.8} fill="#128a12" />
        <text x={523} y={308} fontSize={17}>NN potential</text>
      </svg>
    </div>
  );
}
